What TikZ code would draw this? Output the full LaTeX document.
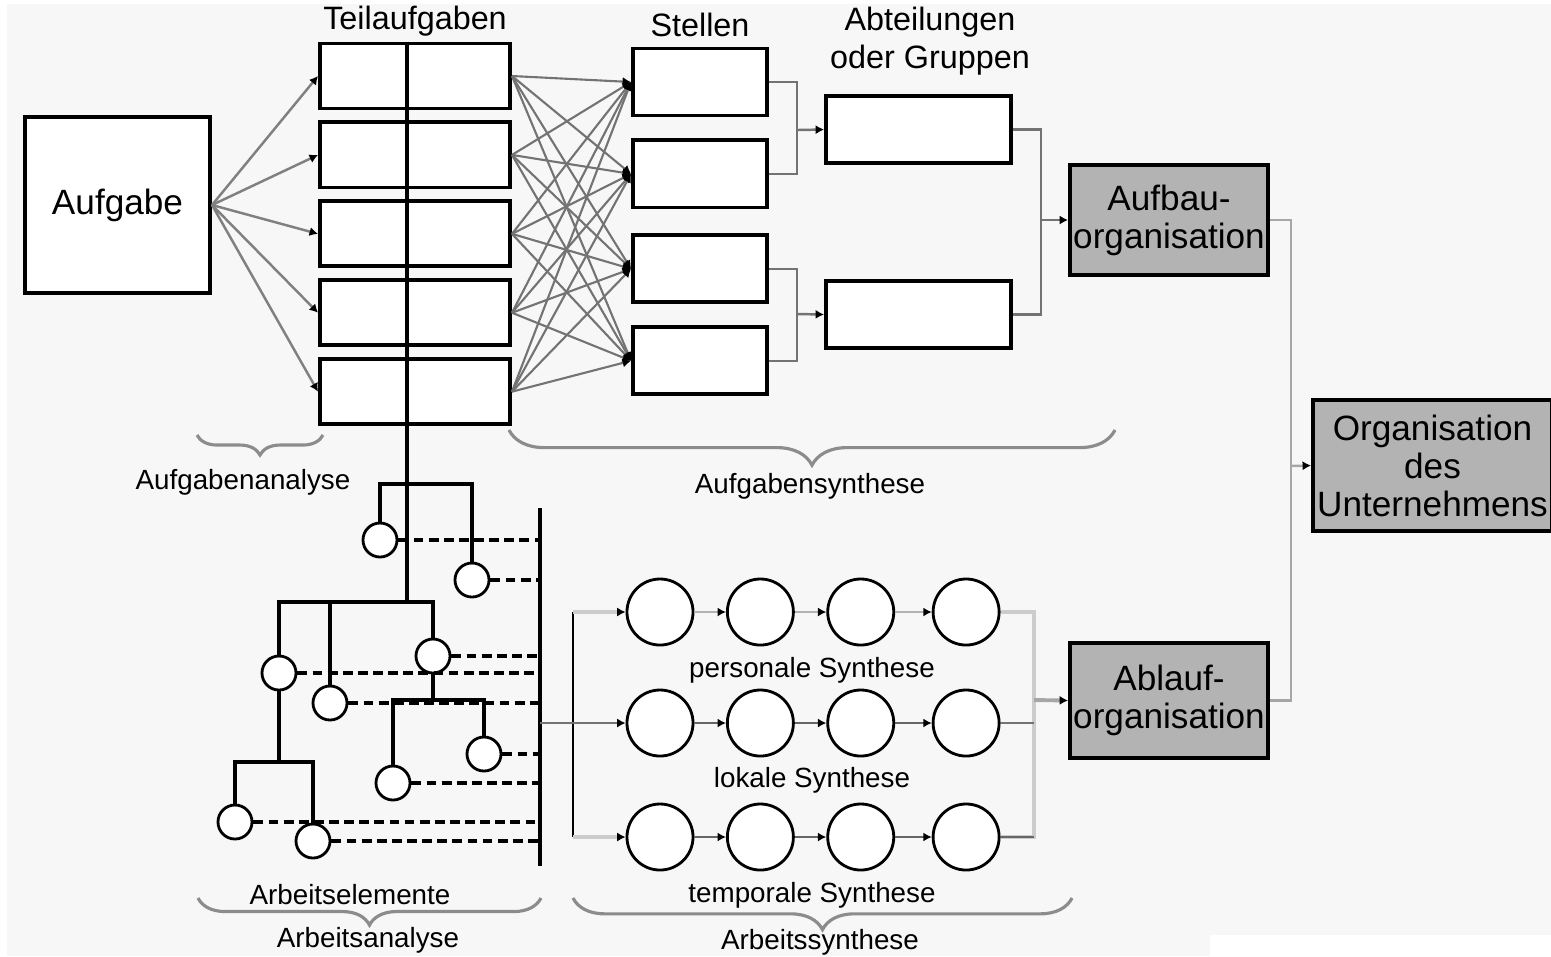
\documentclass[tikz,border=0pt]{standalone}
\usepackage{fontspec}
\setmainfont{Liberation Sans}
\usetikzlibrary{arrows.meta, positioning, decorations.pathreplacing}
\definecolor{bgcol}{RGB}{247,247,247}
\definecolor{boxgray}{RGB}{179,179,179}

\begin{document}
\begin{tikzpicture}[
  x=0.01cm, y=-0.01cm,
  box/.style={rectangle, draw=black, line width=1.1pt, fill=white, inner sep=0pt},
  teil/.style={box, minimum width=1.9cm, minimum height=0.65cm},
  stelle/.style={box, minimum width=1.34cm, minimum height=0.67cm},
  abt/.style={box, minimum width=1.85cm, minimum height=0.67cm},
  orgbox/.style={box, fill=boxgray, align=center, font=\fontsize{10}{10.8}\selectfont},
  elem/.style={circle, draw=black, line width=0.8pt, fill=white, minimum size=0.34cm, inner sep=0pt},
  stage/.style={circle, draw=black, line width=0.8pt, fill=white, minimum size=0.66cm, inner sep=0pt},
  head/.style={font=\fontsize{9.2}{10.8}\selectfont, align=center},
  small/.style={font=\fontsize{7.9}{9}\selectfont},
  tree/.style={line width=1.1pt},
  elemline/.style={line width=1.1pt, dash pattern=on 2.8pt off 1.5pt},
  link/.style={line width=0.7pt, draw=black!55},
  arrow/.style={link, -{Latex[length=2.4pt, width=2.6pt, color=black]}},
  lbrace/.style={draw=black!45, line width=0.9pt, decorate, decoration={brace, amplitude=#1}}
]
\useasboundingbox (0,0) rectangle (1551,956);
\fill[white] (0,0) rectangle (1551,956);
\fill[bgcol] (7,4) rectangle (1551,956);
\fill[white] (1210,935) rectangle (1551,956);

% Aufgabe und Teilaufgaben
\node (aufgabe) [box, minimum width=1.85cm, minimum height=1.76cm, font=\fontsize{10}{12}\selectfont] at (117.5,205) {Aufgabe};
\node (t1) [teil] at (415,76) {};
\node (t2) [teil, below=0.10cm of t1] {};
\node (t3) [teil, below=0.10cm of t2] {};
\node (t4) [teil, below=0.10cm of t3] {};
\node (t5) [teil, below=0.10cm of t4] {};
\node (hTeil) [head] at (415,21) {Teilaufgaben};

% Stellen, Abteilungen
\node (s1) [stelle] at (700,82) {};
\node (s2) [stelle, below=0.21cm of s1] {};
\node (s3) [stelle, below=0.24cm of s2] {};
\node (s4) [stelle, below=0.21cm of s3] {};
\node (hStellen) [head] at (700,25) {Stellen};
\node (a1) [abt] at (918.5,129.5) {};
\node (a2) [abt] at (918.5,314.5) {};
\node (hAbt) [head] at (930,41) {Abteilungen\\oder Gruppen};

\node (aufbau) [orgbox, minimum width=1.98cm, minimum height=1.10cm] at (1169,220) {Aufbau-\\organisation};
\node (ablauf) [orgbox, minimum width=1.98cm, minimum height=1.15cm] at (1169,700.5) {Ablauf-\\organisation};
\node (unternehmen) [orgbox, minimum width=2.39cm, minimum height=1.31cm] at (1432.5,465.5) {Organisation\\des\\Unternehmens};

\coordinate (j1) at (797,130);
\coordinate (j2) at (797,314);
\coordinate (j3) at (1041,220);
\coordinate (j4) at (1291,466);
\coordinate (j5) at (1034,700);

\foreach \i in {1,...,5} \draw[arrow, draw=black!50] (aufgabe.east) -- (t\i.west);
\foreach \i in {1,...,5} \foreach \j in {1,...,4} \draw[arrow, line width=0.6pt] (t\i.east) -- (s\j.west);
\draw[link] (s1.east) -| (j1) |- (s2.east);
\draw[arrow] (j1) -- (a1.west);
\draw[link] (s3.east) -| (j2) |- (s4.east);
\draw[arrow] (j2) -- (a2.west);
\draw[link] (a1.east) -| (j3) |- (a2.east);
\draw[arrow] (j3) -- (aufbau.west);
\draw[link, draw=black!35] (aufbau.east) -| (j4) |- (ablauf.east);
\draw[arrow, draw=black!35] (j4) -- (unternehmen.west);

% Arbeitsanalyse
\coordinate (k1) at (407,484);
\coordinate (k2) at (407,602);
\coordinate (k3) at (433,700);
\coordinate (k4) at (279,762);
\coordinate (bustop) at (540,508);
\coordinate (busbot) at (540,866);
\node (e1) [elem] at (380,540) {};
\node (e2) [elem] at (472,580) {};
\node (e3) [elem] at (279,673) {};
\node (e4) [elem] at (330,703) {};
\node (e5) [elem] at (433,656) {};
\node (e6) [elem] at (484,754) {};
\node (e7) [elem] at (393,783) {};
\node (e8) [elem] at (235,822) {};
\node (e9) [elem] at (313,841) {};

\draw[tree] (t1.north -| k2) -- (k2);
\draw[tree] (e1.north) |- (k1) -| (e2.north);
\draw[tree] (e3.north) |- (k2) -| (e5.north);
\draw[tree] (e4.north) -- (e4.north |- k2);
\draw[tree] (e5.south) -- (k3);
\draw[tree] (e7.north) |- (k3) -| (e6.north);
\draw[tree] (e3.south) -- (k4);
\draw[tree] (e8.north) |- (k4) -| (e9.north);
\draw[tree] (bustop) -- (busbot);
\foreach \e in {1,...,9} \draw[elemline] (e\e.east) -- (e\e.east -| bustop);

% Arbeitssynthese
\foreach \r/\y in {1/612, 2/723, 3/837} {
  \node (c\r1) [stage] at (660,\y) {};
  \node (c\r2) [stage, right=0.315cm of c\r1] {};
  \node (c\r3) [stage, right=0.315cm of c\r2] {};
  \node (c\r4) [stage, right=0.365cm of c\r3] {};
}
\coordinate (sb1) at (573,612);
\coordinate (sb3) at (573,837);
\draw[line width=0.8pt] (sb1) -- (sb3);
\draw[arrow, draw=black!20, line width=1.1pt] (sb1) -- (c11.west);
\draw[arrow, draw=black!20, line width=1.1pt] (sb3) -- (c31.west);
\draw[arrow] (c21.west -| bustop) -- (c21.west);
\foreach \r/\col in {1/black!30, 2/black!60, 3/black!60} {
  \draw[arrow, draw=\col] (c\r1) -- (c\r2);
  \draw[arrow, draw=\col] (c\r2) -- (c\r3);
  \draw[arrow, draw=\col] (c\r3) -- (c\r4);
}
\draw[link, draw=black!20, line width=1.1pt] (c14.east) -| (j5);
\draw[link, draw=black!20, line width=1.1pt] (c34.east) -| (j5);
\draw[link, draw=black!60] (c34.east) -- (c34.east -| j5);
\draw[link] (c24.east) -- (c24.east -| j5);
\draw[arrow, draw=black!35, line width=1.1pt] (j5) -- (ablauf.west);

% Beschriftungen
\node (lPers) [small] at (812,670) {personale Synthese};
\node (lLok) [small] at (812,780) {lokale Synthese};
\node (lTemp) [small] at (812,895) {temporale Synthese};
\node (lElem) [small] at (350,895) {Arbeitselemente};
\node (lAna) [small] at (243,482) {Aufgabenanalyse};
\node (lSyn) [small] at (810,486) {Aufgabensynthese};
\node (lAAna) [small] at (368,940) {Arbeitsanalyse};
\node (lASyn) [small] at (820,942) {Arbeitssynthese};

\draw[lbrace=5.7pt] (323,435) -- (197,435);
\draw[lbrace=10pt] (1115,430) -- (509,430);
\draw[lbrace=7.7pt] (541,898) -- (198,898);
\draw[lbrace=9pt] (1072,898) -- (573,898);

\end{tikzpicture}
\end{document}
